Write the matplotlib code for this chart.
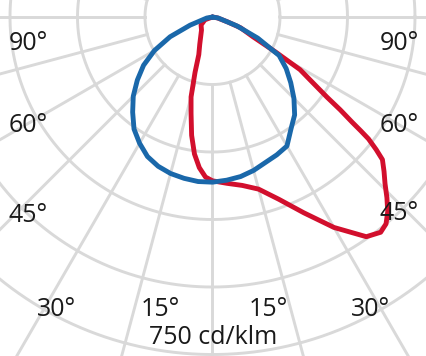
"""
Light distribution curve (polar diagram, cd/klm), cropped around the lamp centre
"""

import numpy as np
from matplotlib import pyplot as plt

# angle from nadir in degrees (negative = left), intensity in cd/klm
blue_angles = [-90, -80, -70, -65, -60, -55, -50, -45, -40, -35, -30, -25, -20, -15, -10, -5,
               0, 5, 10, 15, 20, 25, 30, 35, 40, 45, 50, 55, 60, 65, 70, 80, 90]
blue_values = [0, 13, 53, 104, 149, 187, 218, 249, 276, 304, 324, 342, 353, 360, 364, 367,
               367, 364, 360, 353, 344, 338, 331, 304, 284, 256, 227, 200, 171, 111, 58, 13, 0]

red_angles = [-90, -70, -55, -40, -30, -25, -20, -17.5, -15, -12.5, -10, -7.5, -5, -2.5,
              0, 5, 10, 15, 20, 25, 30, 35, 38, 40, 42, 44, 46, 48, 50, 51, 52, 52.5, 53, 54, 55,
              57, 59, 61, 64, 69, 72, 80, 90]
red_values = [0, 18, 31, 38, 53, 67, 89, 129, 184, 220, 267, 307, 336, 356,
              364, 371, 380, 396, 431, 480, 540, 596, 607, 600, 582, 558, 533, 513, 493, 468, 440, 415, 389, 351, 311,
              262, 227, 160, 100, 67, 36, 11, 0]

ring_values = [150, 300, 450, 600, 750, 900]
spoke_angles = list(range(-180, 180, 15))
left_labels = ["90°", "60°", "45°", "30°", "15°"]
right_labels = ["90°", "60°", "45°", "30°", "15°"]
scale_label = "750 cd/klm"

grid_col = "#d9d9d9"
blue_col = "#1a68aa"
red_col = "#d20f2d"


def polar_xy(angles, values):
    t = np.radians(np.asarray(angles, dtype=float))
    r = np.asarray(values, dtype=float)
    return r * np.sin(t), -r * np.cos(t)


plt.rcParams['font.family'] = ['Open Sans', 'DejaVu Sans']

fig = plt.figure(figsize=(4.27, 3.56), dpi=100)
ax = fig.add_axes([0, 0, 1, 1])
ax.set_xlim(-472.2, 476.7)
ax.set_ylim(-753.3, 37.8)
ax.axis('off')

# rings
t = np.linspace(0, 2 * np.pi, 721)
for rv in ring_values:
    ax.plot(rv * np.cos(t), rv * np.sin(t), color=grid_col, lw=2.1, zorder=1)
# spokes, starting at the first ring
for a in spoke_angles:
    x, y = polar_xy([a, a], [ring_values[0], 2000])
    ax.plot(x, y, color=grid_col, lw=2.1, zorder=1)

x, y = polar_xy(red_angles, red_values)
ax.plot(x, y, color=red_col, lw=3.5, solid_joinstyle='round', solid_capstyle='round', zorder=2)
x, y = polar_xy(blue_angles, blue_values)
ax.plot(x, y, color=blue_col, lw=3.5, solid_joinstyle='round', solid_capstyle='round', zorder=3)

# labels (pixel positions of the reference, in axes fraction)
W, H = 427.0, 356.0
left_pos = [(28, 44), (28, 126), (28, 215), (57, 309), (160, 309)]
right_pos = [(399, 44), (399, 126), (399, 214), (371, 309), (268, 309)]
for lab, (px, py) in zip(left_labels, left_pos):
    ax.text(px / W, 1 - py / H, lab, transform=ax.transAxes, ha='center', va='center',
            fontsize=18, color='#1a1a1a', zorder=5)
for lab, (px, py) in zip(right_labels, right_pos):
    ax.text(px / W, 1 - py / H, lab, transform=ax.transAxes, ha='center', va='center',
            fontsize=18, color='#1a1a1a', zorder=5)
ax.text(213 / W, 1 - 337 / H, scale_label, transform=ax.transAxes, ha='center', va='center',
        fontsize=18, color='#1a1a1a', zorder=5)

fig.savefig("out.png", dpi=100, facecolor='white')
